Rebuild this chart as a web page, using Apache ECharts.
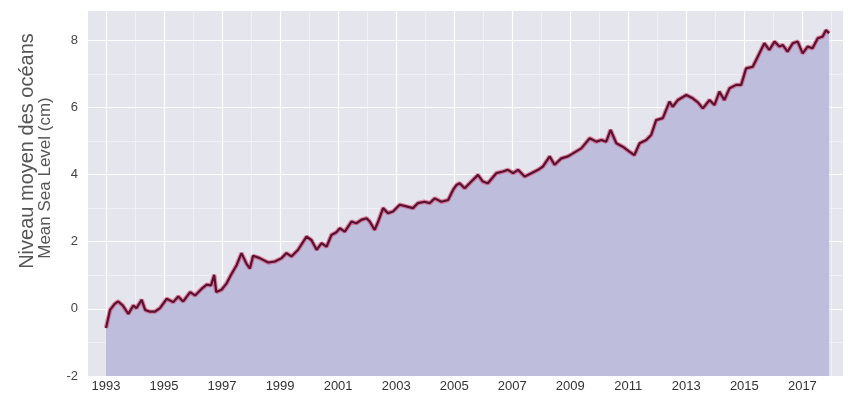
<!DOCTYPE html>
<html>
<head>
<meta charset="utf-8">
<script src="https://cdn.jsdelivr.net/npm/echarts@6/dist/echarts.min.js"></script>
<style>
html,body{margin:0;padding:0;background:#fff;}
#chart{width:846px;height:401px;}
</style>
</head>
<body>
<div id="chart"></div>
<script>
// ---- data ----
const years = [
1993.00,1993.14,1993.30,1993.42,1993.58,1993.77,1993.94,1994.05,1994.23,1994.35,1994.50,1994.69,1994.86,
1995.09,1995.32,1995.49,1995.66,1995.90,1996.07,1996.30,1996.47,1996.62,1996.73,1996.80,1996.98,
1997.15,1997.30,1997.50,1997.67,1997.84,1997.96,1998.07,1998.30,1998.59,1998.82,
1999.05,1999.22,1999.39,1999.62,1999.91,2000.08,2000.26,2000.43,2000.60,2000.77,2000.94,
2001.06,2001.23,2001.46,2001.63,2001.80,2001.98,2002.09,2002.26,2002.38,2002.55,2002.72,2002.89,
2003.12,2003.35,2003.58,2003.75,2003.98,2004.16,2004.33,2004.56,2004.79,2004.96,
2005.08,2005.19,2005.36,2005.59,2005.82,2005.99,2006.16,2006.45,2006.68,2006.85,
2007.03,2007.20,2007.43,2007.66,2007.89,2008.06,2008.29,2008.46,2008.69,2008.92,
2009.15,2009.38,2009.67,2009.90,2010.07,2010.24,2010.39,2010.59,2010.81,
2011.04,2011.21,2011.39,2011.62,2011.79,2011.96,2012.19,2012.42,2012.53,2012.71,
2013.00,2013.22,2013.40,2013.57,2013.80,2013.97,2014.14,2014.31,2014.49,2014.72,2014.89,
2015.06,2015.29,2015.46,2015.69,2015.86,2016.04,2016.21,2016.32,2016.49,2016.67,2016.84,
2017.01,2017.18,2017.35,2017.53,2017.70,2017.81,2017.92
];
const seaLevel = [
-0.57,-0.03,0.15,0.22,0.10,-0.15,0.10,0.02,0.27,-0.03,-0.08,-0.08,0.02,
0.30,0.20,0.37,0.22,0.50,0.40,0.60,0.72,0.70,1.01,0.50,0.57,
0.75,1.00,1.30,1.66,1.35,1.20,1.58,1.51,1.38,1.41,
1.51,1.66,1.56,1.76,2.15,2.05,1.76,1.96,1.85,2.20,2.28,
2.40,2.30,2.60,2.55,2.65,2.70,2.60,2.35,2.60,3.00,2.85,2.90,
3.10,3.05,3.00,3.15,3.19,3.15,3.29,3.19,3.24,3.54,
3.69,3.74,3.59,3.79,3.99,3.79,3.74,4.04,4.09,4.14,
4.04,4.14,3.94,4.04,4.14,4.24,4.54,4.29,4.48,4.54,
4.66,4.78,5.08,4.98,5.03,4.98,5.33,4.93,4.83,
4.68,4.58,4.93,5.03,5.18,5.62,5.68,6.17,6.02,6.22,
6.37,6.27,6.15,5.97,6.22,6.07,6.47,6.22,6.57,6.67,6.67,
7.16,7.21,7.51,7.91,7.71,7.96,7.81,7.86,7.66,7.91,7.96,
7.61,7.81,7.76,8.06,8.11,8.30,8.21
];
const xLabelYears = [1993,1995,1997,1999,2001,2003,2005,2007,2009,2011,2013,2015,2017];
const xMinorYears = [1994,1996,1998,2000,2002,2004,2006,2008,2010,2012,2014,2016,2018];
const yTicks = [-2,0,2,4,6,8];
const titleMain = 'Niveau moyen des océans';
const titleSub = 'Mean Sea Level (cm)';

// ---- chart ----
const pts = years.map((y, i) => [y, seaLevel[i]]);
const chart = echarts.init(document.getElementById('chart'), null, {renderer: 'canvas'});
const X_MIN = 1992.38, X_MAX = 2018.4;
chart.setOption({
  animation: false,
  backgroundColor: '#ffffff',
  grid: {left: 88, right: 3, top: 10, bottom: 25, show: true, backgroundColor: '#E5E5EE', borderWidth: 0},
  graphic: [
    {type: 'text', x: 27, y: 151, rotation: Math.PI / 2,
     style: {text: titleMain, font: '20px "Liberation Sans", Arial, sans-serif', fill: '#555', align: 'center', verticalAlign: 'middle'}},
    {type: 'text', x: 45, y: 178, rotation: Math.PI / 2,
     style: {text: titleSub, font: '17px "Liberation Sans", Arial, sans-serif', fill: '#555', align: 'center', verticalAlign: 'middle'}}
  ],
  xAxis: [{
    type: 'value', min: X_MIN, max: X_MAX,
    axisLine: {show: false}, axisTick: {show: false, customValues: xLabelYears},
    axisLabel: {customValues: xLabelYears, formatter: v => String(Math.round(v)), color: '#333', fontSize: 13, margin: 4,
                fontFamily: '"Liberation Sans", Arial, sans-serif'},
    splitLine: {show: true, lineStyle: {color: '#ffffff', width: 1.2}}
  }, {
    type: 'value', min: X_MIN, max: X_MAX, position: 'bottom',
    axisLine: {show: false}, axisTick: {show: false, customValues: xMinorYears},
    axisLabel: {show: false, customValues: xMinorYears},
    splitLine: {show: true, lineStyle: {color: 'rgba(255,255,255,0.55)', width: 0.8}}
  }],
  yAxis: {
    type: 'value', min: -2, max: 8.9, interval: 2,
    axisLine: {show: false}, axisTick: {show: false},
    axisLabel: {color: '#444', fontSize: 13, margin: 10, showMaxLabel: false,
                fontFamily: '"Liberation Sans", Arial, sans-serif',
                formatter: v => (yTicks.indexOf(v) >= 0 ? String(v) : '')},
    splitLine: {show: true, lineStyle: {color: '#ffffff', width: 1.2}},
    minorTick: {show: false, splitNumber: 2},
    minorSplitLine: {show: true, lineStyle: {color: 'rgba(255,255,255,0.55)', width: 0.8}}
  },
  series: [{
    type: 'line', data: pts, xAxisIndex: 0, showSymbol: false, smooth: false,
    lineStyle: {color: 'rgba(214,60,100,0.55)', width: 4.5},
    areaStyle: {color: '#BEBDDB', opacity: 1, origin: 'start'},
    z: 2
  }, {
    type: 'line', data: pts, xAxisIndex: 0, showSymbol: false, smooth: false,
    lineStyle: {color: '#5A1130', width: 2.2}, z: 3
  }]
});
</script>
</body>
</html>
